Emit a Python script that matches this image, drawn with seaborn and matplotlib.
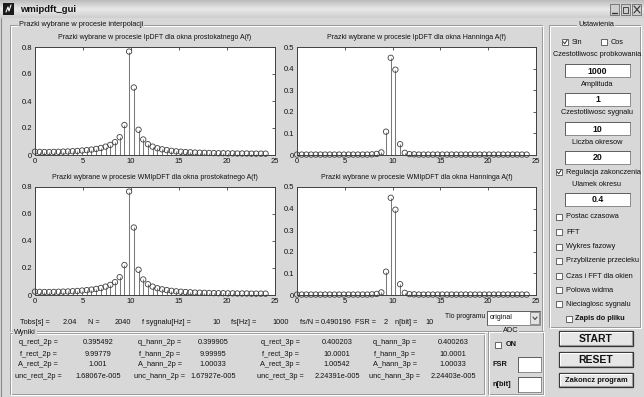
import numpy as np
import matplotlib
matplotlib.use("Agg")
import matplotlib.pyplot as plt
import seaborn as sns
from matplotlib.patches import Rectangle

# ---------------- data ----------------
df_hz = 0.490196                      # fs/N shown in the GUI
bins = np.arange(50)
freq = bins * df_hz

amp_rect_ipdft = [0.025, 0.023, 0.022, 0.022, 0.023, 0.024, 0.025, 0.026, 0.028, 0.030,
                  0.033, 0.036, 0.040, 0.045, 0.052, 0.062, 0.075, 0.095, 0.132, 0.222,
                  0.766, 0.500, 0.187, 0.115, 0.080, 0.062, 0.050, 0.042, 0.036, 0.031,
                  0.027, 0.024, 0.022, 0.020, 0.018, 0.017, 0.016, 0.015, 0.014, 0.013,
                  0.013, 0.012, 0.012, 0.011, 0.011, 0.011, 0.010, 0.010, 0.010, 0.010]
amp_hann_ipdft = [0.002, 0.002, 0.002, 0.002, 0.002, 0.002, 0.002, 0.002, 0.002, 0.002,
                  0.002, 0.002, 0.002, 0.002, 0.002, 0.002, 0.003, 0.005, 0.012, 0.108,
                  0.450, 0.395, 0.050, 0.010, 0.004, 0.003, 0.002, 0.002, 0.002, 0.002,
                  0.002, 0.002, 0.002, 0.002, 0.002, 0.002, 0.002, 0.002, 0.002, 0.002,
                  0.002, 0.002, 0.002, 0.002, 0.002, 0.002, 0.002, 0.002, 0.002, 0.002]
amp_rect_wmipdft = list(amp_rect_ipdft)
amp_hann_wmipdft = list(amp_hann_ipdft)

plot_titles = ["Prazki wybrane w procesie IpDFT dla okna prostokatnego A(f)",
               "Prazki wybrane w procesie IpDFT dla okna Hanninga A(f)",
               "Prazki wybrane w procesie WMIpDFT dla okna prostokatnego A(f)",
               "Prazki wybrane w procesie WMIpDFT dla okna Hanninga A(f)"]
x_ticks = [0, 5, 10, 15, 20, 25]
y_ticks_rect = [0, 0.2, 0.4, 0.6, 0.8]
y_ticks_hann = [0, 0.1, 0.2, 0.3, 0.4, 0.5]

res_labels = [["q_rect_2p =", "f_rect_2p =", "A_rect_2p =", "unc_rect_2p ="],
              ["q_hann_2p =", "f_hann_2p =", "A_hann_2p =", "unc_hann_2p ="],
              ["q_rect_3p =", "f_rect_3p =", "A_rect_3p =", "unc_rect_3p ="],
              ["q_hann_3p =", "f_hann_3p =", "A_hann_3p =", "unc_hann_3p ="]]
res_values = [["0.395492", "9.99779", "1.001", "1.68067e-005"],
              ["0.399905", "9.99995", "1.00033", "1.67927e-005"],
              ["0.400203", "10.0001", "1.00542", "2.24391e-005"],
              ["0.400263", "10.0001", "1.00033", "2.24403e-005"]]

# ---------------- style ----------------
sns.set_theme(style="white")
plt.rcParams['font.family'] = ['Liberation Sans', 'DejaVu Sans']
BG = '#d8d8d8'
DARK = '#404040'
FS = 5.3

W, H = 644, 397
fig = plt.figure(figsize=(W / 100, H / 100), dpi=100, facecolor=BG)
bg = fig.add_axes([0, 0, 1, 1])
bg.set_xlim(0, W)
bg.set_ylim(H, 0)
bg.axis('off')
bg.set_zorder(-5)


def px_rect(x0, y0, x1, y1):
    return [x0 / W, 1 - y1 / H, (x1 - x0) / W, (y1 - y0) / H]


def txt(x, y, s, size=FS, ha='left', weight='normal', color='#111111', va='center'):
    bg.text(x, y, s, fontsize=size, ha=ha, va=va, fontweight=weight, color=color)


def frame(x0, y0, x1, y1, label=None, lx=None):
    for off, col in ((0, '#9a9a9a'), (1, '#ffffff')):
        bg.add_patch(Rectangle((x0 + off, y0 + off), x1 - x0, y1 - y0, fill=False,
                               edgecolor=col, lw=0.7))
    if label:
        bg.text(lx, y0, label, fontsize=FS, ha='left', va='center', color='#111111',
                bbox=dict(facecolor=BG, edgecolor='none', pad=0.6))


def editbox(x0, y0, x1, y1, s=None, size=6.3):
    bg.add_patch(Rectangle((x0, y0), x1 - x0, y1 - y0, facecolor='white',
                           edgecolor='#8a8a8a', lw=0.7))
    bg.plot([x0, x0, x1], [y1, y0, y0], color='#606060', lw=0.7)
    if s:
        txt((x0 + x1) / 2, (y0 + y1) / 2 + 0.5, s, size=size, ha='center', weight='bold')


def button(x0, y0, x1, y1, s, size):
    bg.add_patch(Rectangle((x0, y0), x1 - x0, y1 - y0, facecolor='#e6e6e6',
                           edgecolor='#303030', lw=0.9))
    bg.plot([x0 + 1, x0 + 1, x1 - 1], [y1 - 1, y0 + 1, y0 + 1], color='white', lw=0.8)
    bg.plot([x0 + 1, x1 - 1, x1 - 1], [y1 - 1.2, y1 - 1.2, y0 + 1], color='#9a9a9a', lw=0.8)
    txt((x0 + x1) / 2, (y0 + y1) / 2 + 0.5, s, size=size, ha='center', weight='bold')


def checkbox(x, y, label, checked=False, weight='normal', tx=None):
    s = 6.5
    bg.add_patch(Rectangle((x, y - s / 2), s, s, facecolor='white', edgecolor='#505050', lw=0.6))
    if checked:
        bg.plot([x + 1.3, x + 2.7, x + 5.2], [y - 0.2, y + 1.8, y - 2.0], color='#333333', lw=0.7)
    txt(tx if tx is not None else x + s + 3.5, y, label, weight=weight)


# ---------------- window chrome ----------------
grad = np.linspace(0, 1, 20).reshape(-1, 1)
bg.imshow(grad, extent=(0, W, 18, 0), cmap=matplotlib.colors.LinearSegmentedColormap.from_list(
    'tb', ['#bdbdbd', '#e9e9e9', '#cfcfcf']), aspect='auto', zorder=0)
bg.add_patch(Rectangle((3, 3), 11, 12, facecolor='#1a1a1a', edgecolor='none'))
bg.plot([6, 8, 9, 11], [12, 7, 11, 5], color='white', lw=0.8)
txt(20, 10, "wmipdft_gui", size=6.8, weight='bold')
for bx in (610, 621, 632):
    bg.add_patch(Rectangle((bx, 4), 9.5, 11, facecolor='#cfcfcf', edgecolor='#6a6a6a', lw=0.6))
bg.plot([612, 617], [12.5, 12.5], color='#333333', lw=1.0)
bg.add_patch(Rectangle((623, 6.5), 5.5, 6, fill=False, edgecolor='#333333', lw=0.6))
bg.plot([634, 640], [6, 13], color='#333333', lw=0.8)
bg.plot([634, 640], [13, 6], color='#333333', lw=0.8)
bg.plot([1, 1], [18, H], color='#8a8a8a', lw=0.8)

# ---------------- group boxes ----------------
frame(10, 25, 542, 331, "Prazki wybrane w procesie interpolacji", 19)
frame(10, 333, 484, 394, "Wyniki", 14)
frame(488, 331, 543, 394, "ADC", 503)
frame(549, 25, 640, 327, "Ustawienia", 578)

# ---------------- stem plots ----------------
panels = [((35, 47, 275, 155), amp_rect_ipdft, y_ticks_rect, plot_titles[0]),
          ((297, 47, 536, 155), amp_hann_ipdft, y_ticks_hann, plot_titles[1]),
          ((35, 187, 275, 295), amp_rect_wmipdft, y_ticks_rect, plot_titles[2]),
          ((297, 187, 536, 295), amp_hann_wmipdft, y_ticks_hann, plot_titles[3])]

for (x0, y0, x1, y1), amps, yt, title in panels:
    ax = fig.add_axes(px_rect(x0, y0, x1, y1))
    ax.set_facecolor('white')
    ax.vlines(freq, 0, amps, colors='#7a7a7a', lw=0.75, zorder=2)
    sns.scatterplot(x=freq, y=amps, ax=ax, marker='o', s=15, facecolor='none',
                    edgecolor='#3f3f3f', linewidth=0.6, legend=False, zorder=3, clip_on=False)
    ax.set_xlim(0, 25)
    ax.set_ylim(0, yt[-1])
    ax.set_xticks(x_ticks)
    ax.set_xticklabels([str(t) for t in x_ticks])
    ax.set_yticks(yt)
    ax.set_yticklabels(['0'] + [f"{t:g}" for t in yt[1:]])
    ax.tick_params(direction='in', top=True, right=True, length=2.5, width=0.6,
                   colors=DARK, labelsize=5.5, pad=2, labelcolor='#111111')
    for sp in ax.spines.values():
        sp.set_color(DARK)
        sp.set_linewidth(0.7)
    ax.set_xlabel('')
    ax.set_ylabel('')
    txt((x0 + x1) / 2, y0 - 9.5, title, size=5.0, ha='center')

# ---------------- info row ----------------
row_y = 322.5
for x, s in [(20, "Tobs[s] ="), (63, "2.04"), (88, "N ="), (115, "2040"),
             (142, "f sygnalu[Hz] ="), (212, "10"), (231, "fs[Hz] ="), (272, "1000"),
             (300, "fs/N ="), (321, "0.490196"), (355, "FSR ="), (384, "2"),
             (395, "n[bit] ="), (425, "10")]:
    txt(x, row_y, s)
txt(445, 317, "Tlo programu", size=4.9)
editbox(487, 311, 540, 325)
txt(490, 317.5, "original", size=5.0)
bg.add_patch(Rectangle((530, 312), 9.5, 12, facecolor='#e2e2e2', edgecolor='#808080', lw=0.6))
bg.plot([533, 535, 537], [317, 319.5, 317], color='#333333', lw=0.7)

# ---------------- results ----------------
lab_cx = [38, 160, 280, 395]
val_cx = [98, 213, 337, 453]
rows_y = [343, 354, 365, 376]
for c in range(4):
    for r in range(4):
        txt(lab_cx[c], rows_y[r], res_labels[c][r], ha='center')
        txt(val_cx[c], rows_y[r], res_values[c][r], ha='center')

# ---------------- ADC ----------------
checkbox(495, 345, "ON", weight='bold', tx=506)
txt(493, 364, "FSR", weight='bold')
txt(493, 384, "n[bit]", weight='bold')
editbox(518, 357, 541, 372)
editbox(518, 377, 541, 392)

# ---------------- settings panel ----------------
cx = 597
checkbox(562, 42, "Sin", checked=True)
checkbox(601, 42, "Cos")
for y, s, v in [(55, "Czestotliwosc probkowania", "1000"), (84, "Amplituda", "1"),
                (113, "Czestotliwosc sygnalu", "10"), (142, "Liczba okresow", "20")]:
    txt(cx, y, s, ha='center')
    editbox(565, y + 9, 630, y + 22, v)
checkbox(556, 172, "Regulacja zakonczenia", checked=True)
txt(cx, 185, "Ulamek okresu", ha='center')
editbox(565, 193, 630, 206, "0.4")
for y, s in [(217, "Postac czasowa"), (232, "FFT"), (247, "Wykres fazowy"),
             (261, "Przyblizenie przecieku"), (276, "Czas i FFT dla okien"),
             (290, "Polowa widma"), (304, "Nieciaglosc sygnalu")]:
    checkbox(556, y, s)
checkbox(566, 319, "Zapis do pliku", weight='bold', tx=575)

button(559, 331, 633, 346, "START", 7.5)
button(559, 352, 633, 367, "RESET", 7.5)
button(559, 373, 633, 387, "Zakoncz program", 5.4)

fig.savefig("out.png", dpi=100, facecolor=BG)
